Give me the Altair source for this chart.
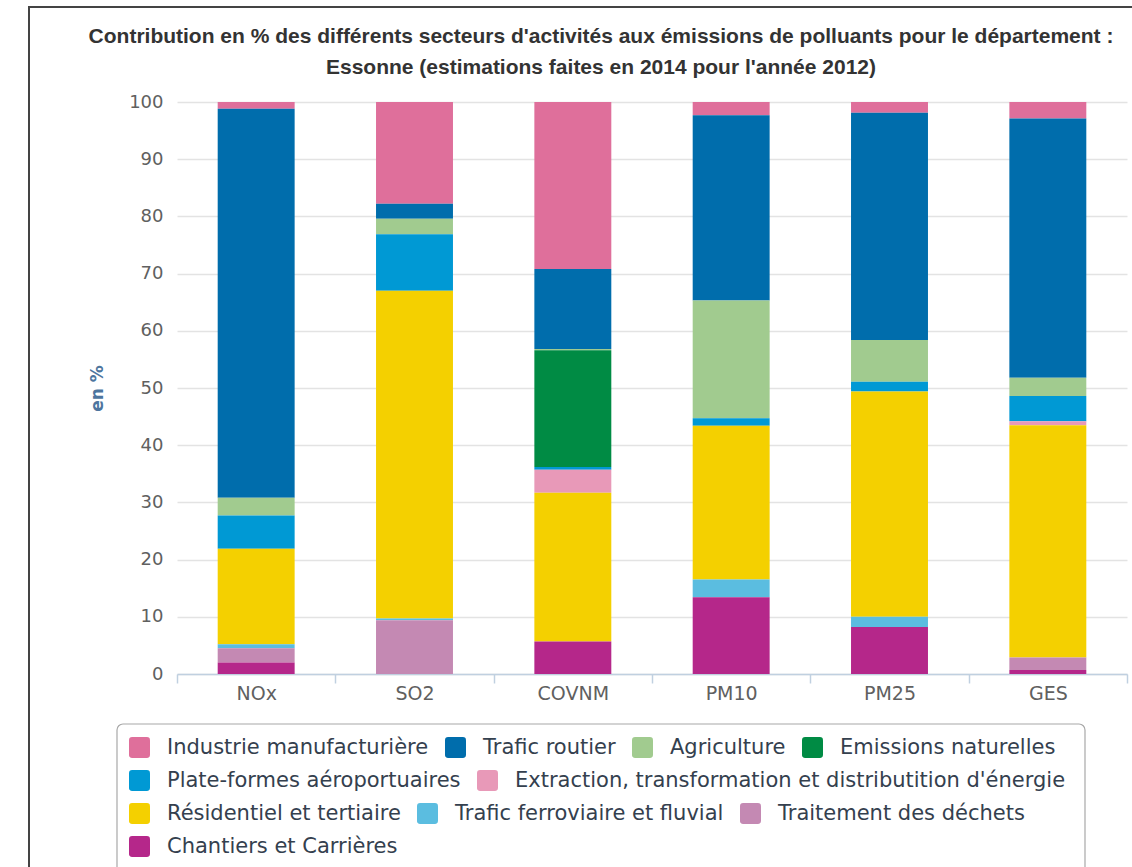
import altair as alt
import pandas as pd

# Pollutants (x categories)
polluants = ["NOx", "SO2", "COVNM", "PM10", "PM25", "GES"]

# Activity sectors, in legend order (first one sits on top of each stack)
secteurs = [
    "Industrie manufacturière",
    "Trafic routier",
    "Agriculture",
    "Emissions naturelles",
    "Plate-formes aéroportuaires",
    "Extraction, transformation et distributition d'énergie",
    "Résidentiel et tertiaire",
    "Trafic ferroviaire et fluvial",
    "Traitement des déchets",
    "Chantiers et Carrières",
]

couleurs = [
    "#df6f9b", "#006dac", "#a1cb8f", "#008b44", "#0099d4",
    "#e899b8", "#f4d000", "#5bbde0", "#c489b3", "#b5278a",
]

# Share (%) of each sector, one value per pollutant (NOx, SO2, COVNM, PM10, PM25, GES)
industrie = [1.2, 17.8, 29.2, 2.3, 1.9, 2.9]
trafic_routier = [68.0, 2.6, 14.0, 32.4, 39.7, 45.3]
agriculture = [3.1, 2.7, 0.2, 20.6, 7.3, 3.2]
emissions_naturelles = [0.0, 0.0, 20.4, 0.0, 0.0, 0.0]
plateformes = [5.8, 9.9, 0.5, 1.3, 1.7, 4.4]
extraction = [0.0, 0.0, 4.0, 0.0, 0.0, 0.7]
residentiel = [16.7, 57.3, 26.0, 26.9, 39.4, 40.6]
ferroviaire = [0.7, 0.3, 0.0, 3.1, 1.8, 0.0]
dechets = [2.5, 9.4, 0.0, 0.0, 0.0, 2.2]
chantiers = [2.0, 0.0, 5.7, 13.4, 8.2, 0.7]

series = [industrie, trafic_routier, agriculture, emissions_naturelles, plateformes,
          extraction, residentiel, ferroviaire, dechets, chantiers]

titre = [
    "Contribution en % des différents secteurs d'activités aux émissions de polluants pour le département :",
    "Essonne (estimations faites en 2014 pour l'année 2012)",
]

rows = []
for i, (secteur, valeurs) in enumerate(zip(secteurs, series)):
    for polluant, v in zip(polluants, valeurs):
        rows.append({"polluant": polluant, "secteur": secteur, "valeur": v,
                     "rang": len(secteurs) - 1 - i})
df = pd.DataFrame(rows)

# Legend is split into four rows, each one its own legend
lignes_legende = [secteurs[0:4], secteurs[4:6], secteurs[6:9], secteurs[9:10]]
couleur_de = dict(zip(secteurs, couleurs))
centres_lignes = [644, 677, 710, 743]  # row centres, relative to the plot origin

rounded_square = ("M -0.7 -1 L 0.7 -1 Q 1 -1 1 -0.7 L 1 0.7 Q 1 1 0.7 1 "
                  "L -0.7 1 Q -1 1 -1 0.7 L -1 -0.7 Q -1 -1 -0.7 -1 Z")

base = alt.Chart(df).transform_stack(
    stack="valeur",
    groupby=["polluant"],
    sort=[alt.SortField("rang", order="ascending")],
    as_=["y0", "y1"],
)

x_enc = alt.X(
    "polluant:N",
    sort=polluants,
    title=None,
    scale=alt.Scale(paddingInner=0, paddingOuter=0),
    axis=alt.Axis(
        labelAngle=0, labelFont="DejaVu Sans", labelFontSize=19, labelColor="#606060",
        labelPadding=1, domainColor="#c0d0e0", domainWidth=1.5,
        tickColor="#c0d0e0", tickWidth=1.5, tickSize=9, tickBand="extent",
        grid=False,
    ),
)

y_axis = alt.Axis(
    values=list(range(0, 101, 10)), title="en %", titleFont="DejaVu Sans",
    titleFontSize=17, titleFontWeight="bold", titleColor="#4d759e", titlePadding=22,
    labelFont="DejaVu Sans", labelFontSize=18, labelColor="#606060", labelPadding=14,
    domain=False, ticks=False, gridColor="#e3e3e3", gridWidth=1.5,
)

layers = []
for k, ligne in enumerate(lignes_legende):
    layers.append(
        base.transform_filter(alt.FieldOneOfPredicate(field="secteur", oneOf=ligne))
        .mark_bar(width=alt.RelativeBandSize(band=0.486))
        .encode(
            x=x_enc,
            y=alt.Y("y0:Q", scale=alt.Scale(domain=[0, 100], nice=False), axis=y_axis),
            y2="y1:Q",
            color=alt.Color(
                "secteur:N",
                scale=alt.Scale(domain=ligne, range=[couleur_de[s] for s in ligne]),
                legend=alt.Legend(
                    title=None, orient="none", direction="horizontal",
                    legendX=-48, legendY=centres_lignes[k] - 9,
                    symbolType=rounded_square, symbolSize=441, symbolStrokeWidth=0,
                    labelFont="DejaVu Sans", labelFontSize=21, labelColor="#34404e",
                    labelOffset=17, columnPadding=16, labelLimit=800, padding=0,
                ),
            ),
        )
    )

# Two-line chart title, centred above the plot
lignes_titre = [
    alt.Chart(alt.Data(values=[{}])).mark_text(
        font="Liberation Sans", fontSize=21, fontWeight="bold", color="#333333",
        align="center", baseline="middle",
    ).encode(x=alt.value(424), y=alt.value(dy), text=alt.value(t))
    for t, dy in zip(titre, [-65, -34])
]

# Legend frame and outer chart frame
cadre_legende = alt.Chart(alt.Data(values=[{}])).mark_rect(
    fill=None, stroke="#a8a8a8", strokeWidth=1.2, cornerRadius=6
).encode(x=alt.value(-60), x2=alt.value(908), y=alt.value(622), y2=alt.value(800))

cadre = alt.Chart(alt.Data(values=[{}])).mark_rect(
    fill=None, stroke="#444444", strokeWidth=2
).encode(x=alt.value(-148), x2=alt.value(1000), y=alt.value(-95), y2=alt.value(900))

chart = alt.layer(cadre, *layers, cadre_legende, *lignes_titre).resolve_scale(
    color="independent"
).properties(
    width=950,
    height=572,
    autosize=alt.AutoSizeParams(type="none"),
    padding={"left": 177, "top": 102, "right": 5, "bottom": 193},
).configure(background="white").configure_view(stroke=None)

chart.save("out.html", embed_options={"renderer": "svg", "actions": False})
